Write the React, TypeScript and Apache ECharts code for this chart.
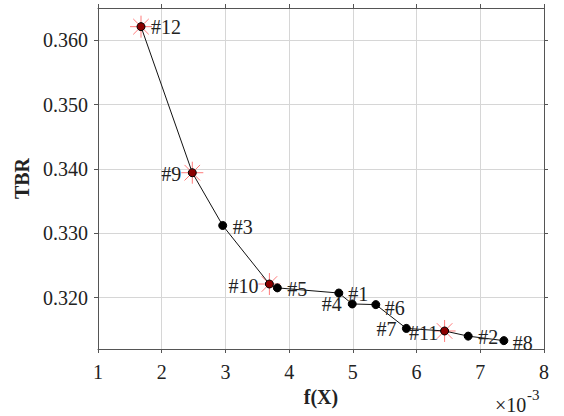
import React, { useEffect, useRef } from "react";
import * as echarts from "echarts";

// ---- data (f(X) in real units, TBR) ----
const ids = ["#12", "#9", "#3", "#10", "#5", "#4", "#1", "#6", "#7", "#11", "#2", "#8"];
const fx = [0.001675, 0.00248, 0.002957, 0.00369, 0.003815, 0.00478, 0.00499, 0.00536, 0.00584, 0.00644, 0.00681, 0.00737];
const tbr = [0.3621, 0.3394, 0.3312, 0.3221, 0.3215, 0.3207, 0.319, 0.3189, 0.3152, 0.3148, 0.314, 0.3133];
const highlighted = ["#12", "#9", "#10", "#11"];
const yTicks = [0.32, 0.33, 0.34, 0.35, 0.36];

// label placement (pixel offsets from the point)
const labelOffset: Record<string, [number, number]> = {
  "#12": [25, 0],
  "#9": [-21, 1],
  "#3": [20, 2],
  "#10": [-26, 2],
  "#5": [20, 1],
  "#4": [-7, 11],
  "#1": [6, -10],
  "#6": [19, 3],
  "#7": [-20, 1],
  "#11": [-21, 2],
  "#2": [20, 1],
  "#8": [19, 2],
};

const FONT = "'Liberation Serif', 'Times New Roman', serif";
const STAR = "path://M10,0L10,20M0,10L20,10M2.93,2.93L17.07,17.07M17.07,2.93L2.93,17.07";

export default function App() {
  const ref = useRef<HTMLDivElement>(null);
  useEffect(() => {
    if (!ref.current) return;
    const chart = echarts.init(ref.current, null, { renderer: "svg" });
    const axisBase = {
      axisLine: { show: true, onZero: false, lineStyle: { color: "#555", width: 1 } },
      axisTick: { show: true, inside: false, length: 4, lineStyle: { color: "#555" } },
      splitLine: { show: false },
    };
    const xMin = 0.001, xMax = 0.008, yMin = 0.312, yMax = 0.365;
    const option: any = {
      animation: false,
      backgroundColor: "#fff",
      textStyle: { fontFamily: FONT },
      grid: { left: 98, right: 20, top: 8, bottom: 67, containLabel: false },
      xAxis: [
        {
          ...axisBase,
          type: "value",
          min: xMin,
          max: xMax,
          interval: 0.001,
          name: "f(X)",
          nameLocation: "middle",
          nameGap: 38,
          nameTextStyle: { fontFamily: FONT, fontWeight: "bold", fontSize: 20, color: "#222" },
          axisLabel: {
            fontFamily: FONT,
            fontSize: 20,
            color: "#222",
            margin: 13,
            formatter: (v: number) => String(Math.round(v * 1000)),
          },
          splitLine: { show: true, lineStyle: { color: "#d6d6d6", width: 1 } },
        },
        {
          ...axisBase,
          type: "value",
          position: "top",
          min: xMin,
          max: xMax,
          interval: 0.001,
          axisLabel: { show: false },
        },
      ],
      yAxis: [
        {
          ...axisBase,
          type: "value",
          min: yMin,
          max: yMax,
          name: "TBR",
          nameLocation: "middle",
          nameGap: 60,
          nameTextStyle: { fontFamily: FONT, fontWeight: "bold", fontSize: 20, color: "#222" },
          axisTick: { ...axisBase.axisTick, customValues: yTicks },
          axisLabel: {
            fontFamily: FONT,
            fontSize: 20,
            color: "#222",
            margin: 10,
            customValues: yTicks,
            formatter: (v: number) => v.toFixed(3),
          },
          splitLine: { show: true, lineStyle: { color: "#d6d6d6", width: 1 } },
        },
        {
          ...axisBase,
          type: "value",
          position: "right",
          min: yMin,
          max: yMax,
          axisTick: { ...axisBase.axisTick, customValues: yTicks },
          axisLabel: { show: false, customValues: yTicks },
        },
      ],
      graphic: [
        {
          type: "text",
          x: 495,
          y: 405,
          style: {
            text: "×10",
            fill: "#222",
            font: `20px ${FONT}`,
            textAlign: "left",
            textVerticalAlign: "middle",
          },
        },
        {
          type: "text",
          x: 527,
          y: 395,
          style: {
            text: "-3",
            fill: "#222",
            font: `15px ${FONT}`,
            textAlign: "left",
            textVerticalAlign: "middle",
          },
        },
      ],
      series: [
        {
          type: "scatter",
          z: 1,
          silent: true,
          symbol: STAR,
          symbolSize: 22,
          itemStyle: { color: "transparent", borderColor: "#ff5a5a", borderWidth: 1 },
          data: ids
            .map((id, i) => ({ id, v: [fx[i], tbr[i]] }))
            .filter((d) => highlighted.includes(d.id))
            .map((d) => d.v),
        },
        {
          type: "line",
          z: 3,
          symbol: "circle",
          symbolSize: 8,
          showAllSymbol: true,
          lineStyle: { color: "#111", width: 1 },
          itemStyle: { color: "#000", borderColor: "#000", borderWidth: 1 },
          data: ids.map((id, i) => ({
            value: [fx[i], tbr[i]],
            itemStyle: highlighted.includes(id)
              ? { color: "#8b0000", borderColor: "#000", borderWidth: 1 }
              : { color: "#000" },
            label: {
              show: true,
              position: "inside",
              offset: labelOffset[id],
              formatter: id,
              fontFamily: FONT,
              fontSize: 20,
              color: "#222",
              align: "center",
              verticalAlign: "middle",
            },
          })),
        },
      ],
    };
    chart.setOption(option);
    return () => chart.dispose();
  }, []);
  return (
    <div
      ref={ref}
      style={{ position: "fixed", left: 0, top: 0, width: 564, height: 416, background: "#fff" }}
    />
  );
}
